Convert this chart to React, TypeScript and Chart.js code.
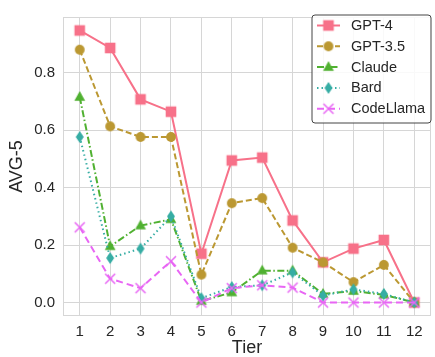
import React, { useEffect, useRef } from 'react';
import { Chart, registerables } from 'chart.js';

Chart.register(...registerables);

const tiers = [1, 2, 3, 4, 5, 6, 7, 8, 9, 10, 11, 12];
const yTickValues = [0, 0.2, 0.4, 0.6, 0.8];
const seriesNames = ['GPT-4', 'GPT-3.5', 'Claude', 'Bard', 'CodeLlama'];
const gpt4 = [0.948, 0.887, 0.708, 0.665, 0.17, 0.495, 0.505, 0.286, 0.14, 0.188, 0.218, 0.0];
const gpt35 = [0.881, 0.614, 0.577, 0.577, 0.097, 0.346, 0.364, 0.191, 0.14, 0.071, 0.131, 0.0];
const claude = [0.716, 0.196, 0.268, 0.29, 0.005, 0.035, 0.111, 0.111, 0.03, 0.04, 0.027, 0.0];
const bard = [0.577, 0.155, 0.188, 0.3, 0.015, 0.054, 0.06, 0.105, 0.024, 0.046, 0.03, 0.0];
const codellama = [0.262, 0.083, 0.05, 0.144, 0.0, 0.05, 0.06, 0.052, 0.0, 0.0, 0.0, 0.0];
const seriesValues = [gpt4, gpt35, claude, bard, codellama];
const colors = ['#f77189', '#bb9832', '#50b131', '#36ada4', '#e866f4'];
const dashes: number[][] = [[], [6, 3], [7, 2.5, 1.5, 2.5], [1.5, 3], [7, 4]];
const markers = ['square', 'circle', 'triangle', 'diamond', 'x'];

const FONT = '"Liberation Sans", Arial, sans-serif';
const TEXT = '#262626';
const GRID = '#d6d6d6';

function makeMarker(kind: string, color: string): HTMLCanvasElement {
  const c = document.createElement('canvas');
  const size = 14;
  c.width = size;
  c.height = size;
  const g = c.getContext('2d')!;
  const m = size / 2;
  g.fillStyle = color;
  g.strokeStyle = color;
  g.beginPath();
  if (kind === 'square') {
    g.fillRect(m - 5.3, m - 5.3, 10.6, 10.6);
  } else if (kind === 'circle') {
    g.arc(m, m, 4.9, 0, Math.PI * 2);
    g.fill();
  } else if (kind === 'triangle') {
    g.moveTo(m, m - 6);
    g.lineTo(m + 5.4, m + 3.8);
    g.lineTo(m - 5.4, m + 3.8);
    g.closePath();
    g.fill();
  } else if (kind === 'diamond') {
    g.moveTo(m, m - 6);
    g.lineTo(m + 4, m);
    g.lineTo(m, m + 6);
    g.lineTo(m - 4, m);
    g.closePath();
    g.fill();
  } else {
    g.lineWidth = 1.5;
    g.moveTo(m - 5, m - 5);
    g.lineTo(m + 5, m + 5);
    g.moveTo(m + 5, m - 5);
    g.lineTo(m - 5, m + 5);
    g.stroke();
  }
  return c;
}

export default function App() {
  const ref = useRef<HTMLCanvasElement>(null);

  useEffect(() => {
    if (!ref.current) return;
    const imgs = markers.map((k, i) => makeMarker(k, colors[i]));

    const framePlugin = {
      id: 'frame',
      beforeDatasetsDraw(chart: any) {
        const { ctx, chartArea: a } = chart;
        ctx.save();
        ctx.strokeStyle = GRID;
        ctx.lineWidth = 1;
        ctx.strokeRect(a.left + 0.5, a.top + 0.5, a.right - a.left - 1, a.bottom - a.top - 1);
        ctx.restore();
      },
    };

    const legendPlugin = {
      id: 'customLegend',
      afterDraw(chart: any) {
        const { ctx } = chart;
        const bx = 312, by = 15, bw = 119, bh = 108, r = 3;
        ctx.save();
        ctx.beginPath();
        ctx.moveTo(bx + r, by);
        ctx.arcTo(bx + bw, by, bx + bw, by + bh, r);
        ctx.arcTo(bx + bw, by + bh, bx, by + bh, r);
        ctx.arcTo(bx, by + bh, bx, by, r);
        ctx.arcTo(bx, by, bx + bw, by, r);
        ctx.closePath();
        ctx.fillStyle = 'rgba(255,255,255,0.85)';
        ctx.fill();
        ctx.strokeStyle = '#444444';
        ctx.lineWidth = 1;
        ctx.stroke();
        seriesNames.forEach((name, i) => {
          const cy = 25.5 + i * 20.8;
          ctx.strokeStyle = colors[i];
          ctx.lineWidth = 2;
          ctx.setLineDash(dashes[i]);
          ctx.beginPath();
          ctx.moveTo(317, cy);
          ctx.lineTo(340, cy);
          ctx.stroke();
          ctx.setLineDash([]);
          const im = imgs[i];
          ctx.drawImage(im, 328.5 - im.width / 2, cy - im.height / 2);
          ctx.fillStyle = TEXT;
          ctx.font = `14.5px ${FONT}`;
          ctx.textBaseline = 'middle';
          ctx.textAlign = 'left';
          ctx.fillText(name, 351, cy + 0.5);
        });
        ctx.restore();
      },
    };

    const chart = new Chart(ref.current, {
      type: 'line',
      data: {
        datasets: seriesNames.map((name, i) => ({
          label: name,
          data: tiers.map((t, j) => ({ x: t, y: seriesValues[i][j] })),
          borderColor: colors[i],
          backgroundColor: colors[i],
          borderWidth: 2,
          borderDash: dashes[i],
          pointStyle: imgs[i],
          pointRadius: 6,
          order: 5 - i,
          tension: 0,
          fill: false,
        })),
      },
      options: {
        animation: false,
        responsive: false,
        layout: { padding: { top: 7, left: 0, right: 0, bottom: 0 } },
        plugins: { legend: { display: false }, tooltip: { enabled: false } },
        scales: {
          x: {
            type: 'linear',
            min: 0.45,
            max: 12.55,
            afterBuildTicks: (s: any) => {
              s.ticks = tiers.map((v) => ({ value: v }));
            },
            afterFit: (s: any) => {
              s.height = 41;
            },
            grid: { color: GRID, drawTicks: false, lineWidth: 1 },
            border: { display: false },
            ticks: {
              padding: 7,
              color: TEXT,
              font: { family: FONT, size: 15 },
              callback: (v: any) => String(v),
            },
            title: {
              display: true,
              text: 'Tier',
              color: TEXT,
              font: { family: FONT, size: 18, lineHeight: 1 },
              padding: { top: 0, bottom: 0 },
            },
          },
          y: {
            type: 'linear',
            min: -0.047,
            max: 0.995,
            afterBuildTicks: (s: any) => {
              s.ticks = yTickValues.map((v) => ({ value: v }));
            },
            afterFit: (s: any) => {
              s.width = 63;
            },
            grid: { color: GRID, drawTicks: false, lineWidth: 1 },
            border: { display: false },
            ticks: {
              padding: 8,
              color: TEXT,
              font: { family: FONT, size: 15 },
              callback: (v: any) => Number(v).toFixed(1),
            },
            title: {
              display: true,
              text: 'AVG-5',
              color: TEXT,
              font: { family: FONT, size: 18, lineHeight: 1 },
              padding: { top: 8, bottom: 0 },
            },
          },
        },
      },
      plugins: [framePlugin, legendPlugin],
    } as any);

    return () => chart.destroy();
  }, []);

  return (
    <div style={{ position: 'fixed', left: 0, top: 0, width: 435, height: 357, overflow: 'hidden', background: '#fff' }}>
      <canvas ref={ref} width={439} height={357} style={{ width: 439, height: 357, display: 'block' }} />
    </div>
  );
}
